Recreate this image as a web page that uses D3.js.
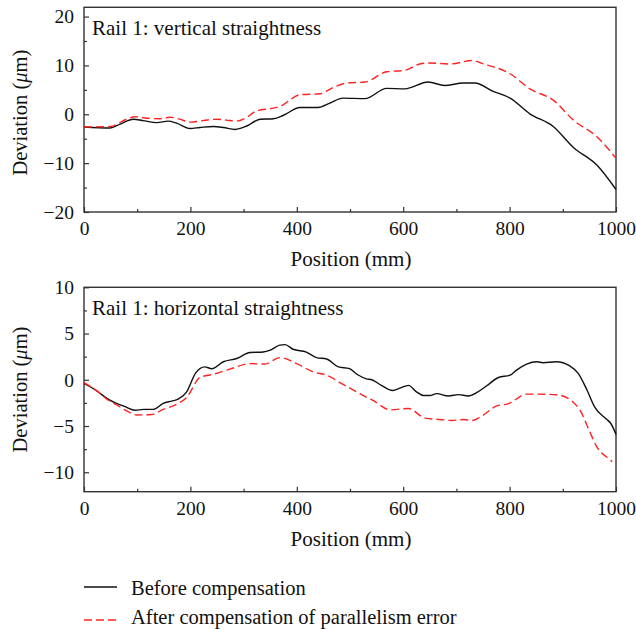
<!DOCTYPE html>
<html>
<head>
<meta charset="utf-8">
<script src="https://cdn.jsdelivr.net/npm/d3@7"></script>
<style>
  html, body { margin: 0; padding: 0; background: #fff; }
  svg { display: block; }
  text { font-family: "Liberation Serif", "Times New Roman", serif; fill: #111; }
</style>
</head>
<body>
<svg id="chart" width="636" height="629"></svg>
<script>
// ---------- Data ----------
const xTicks = [0, 200, 400, 600, 800, 1000];
const vertYTicks = [-20, -10, 0, 10, 20];
const horzYTicks = [-10, -5, 0, 5, 10];

// Rail 1: vertical straightness
const vertBeforeX = [0,49,68,93,111,137,158,174,199,218,243,262,284,306,331,356,375,406,440,462,487,528,569,603,647,678,713,735,769,801,838,882,920,964,1000];
const vertBeforeY = [-2.6,-2.8,-2.0,-1.0,-1.3,-1.7,-1.4,-1.8,-2.9,-2.7,-2.5,-2.7,-3.1,-2.4,-1.0,-0.9,-0.2,1.4,1.4,2.3,3.3,3.2,5.3,5.2,6.6,5.9,6.4,6.4,4.7,3.3,0.1,-2.5,-6.8,-10.4,-15.4];
const vertAfterX = [0,49,80,96,118,143,162,180,199,224,249,268,287,306,325,353,368,406,444,469,494,528,569,603,631,650,688,729,751,801,838,882,920,964,1000];
const vertAfterY = [-2.6,-2.5,-1.0,-0.5,-0.8,-0.9,-0.6,-1.0,-1.6,-1.3,-1.0,-1.2,-1.4,-0.6,0.75,1.2,1.6,4.0,4.2,5.5,6.4,6.6,8.7,9.0,10.3,10.5,10.3,11.0,10.3,8.3,5.2,2.9,-1.2,-4.6,-9.0];

// Rail 1: horizontal straightness
const horzBeforeX = [0,24,43,61,77,96,112,130,149,165,177,193,210,227,240,262,287,312,337,350,368,378,393,418,437,456,478,499,513,531,541,559,580,594,610,625,638,650,663,685,704,722,738,757,779,801,813,832,851,863,888,913,929,945,960,982,990,1000];
const horzBeforeY = [-0.4,-1.2,-2.0,-2.55,-2.9,-3.3,-3.2,-3.2,-2.55,-2.3,-2.1,-1.3,0.75,1.4,1.2,1.95,2.3,2.95,3.0,3.2,3.75,3.8,3.3,3.0,2.4,2.25,1.4,1.2,0.6,0.1,0.0,-0.6,-1.15,-0.9,-0.6,-1.3,-1.7,-1.7,-1.5,-1.75,-1.6,-1.75,-1.4,-0.65,0.25,0.5,1.05,1.7,1.95,1.85,1.95,1.5,0.7,-1.05,-2.95,-4.25,-4.7,-5.9];
const horzAfterX = [0,24,43,61,80,99,127,149,174,193,218,243,274,312,340,368,400,431,456,487,503,525,544,575,610,641,669,691,713,729,744,775,797,832,857,892,920,932,948,963,989,993];
const horzAfterY = [-0.3,-1.2,-2.1,-2.7,-3.35,-3.8,-3.75,-3.2,-2.65,-1.9,0.25,0.6,1.15,1.75,1.7,2.4,1.75,0.85,0.5,-0.5,-1.0,-1.7,-2.25,-3.25,-3.1,-4.15,-4.3,-4.4,-4.3,-4.4,-4.05,-2.85,-2.6,-1.55,-1.55,-1.65,-2.45,-3.25,-5.25,-7.15,-8.65,-8.85];

const seriesNames = ["Before compensation", "After compensation of parallelism error"];
const panelTitles = ["Rail 1: vertical straightness", "Rail 1: horizontal straightness"];

// ---------- Drawing ----------
const svg = d3.select("#chart");
const left = 84, right = 616;
const frameColor = "#333";

function zip(xs, ys) { return xs.map((x, i) => [x, ys[i]]); }

function panel(cfg) {
  const x = d3.scaleLinear().domain([0, 1000]).range([left, right]);
  const y = d3.scaleLinear().domain(cfg.yDomain).range([cfg.bottom, cfg.top]);
  const g = svg.append("g");

  // minor ticks
  const xAxisMinor = d3.axisBottom(x).tickValues(cfg.xMinor).tickSize(-3).tickFormat("");
  g.append("g").attr("transform", `translate(0,${cfg.bottom})`).call(xAxisMinor)
    .call(s => s.select(".domain").remove())
    .call(s => s.selectAll("line").attr("stroke", frameColor).attr("stroke-width", 1.2));
  const yAxisMinor = d3.axisLeft(y).tickValues(cfg.yMinor).tickSize(-3).tickFormat("");
  g.append("g").attr("transform", `translate(${left},0)`).call(yAxisMinor)
    .call(s => s.select(".domain").remove())
    .call(s => s.selectAll("line").attr("stroke", frameColor).attr("stroke-width", 1.2));

  // major axes
  const xAxis = d3.axisBottom(x).tickValues(xTicks).tickSize(-5).tickPadding(9).tickFormat(d3.format("d"));
  g.append("g").attr("transform", `translate(0,${cfg.bottom})`).call(xAxis)
    .call(s => s.select(".domain").remove())
    .call(s => s.selectAll("line").attr("stroke", frameColor).attr("stroke-width", 1.2))
    .call(s => s.selectAll("text").attr("font-size", 19.5).attr("font-family", "Liberation Serif").attr("fill", "#111"));
  const yAxis = d3.axisLeft(y).tickValues(cfg.yTicks).tickSize(-5).tickPadding(10)
    .tickFormat(d => d < 0 ? "\u2212" + Math.abs(d) : String(d));
  g.append("g").attr("transform", `translate(${left},0)`).call(yAxis)
    .call(s => s.select(".domain").remove())
    .call(s => s.selectAll("line").attr("stroke", frameColor).attr("stroke-width", 1.2))
    .call(s => s.selectAll("text").attr("font-size", 19.5).attr("font-family", "Liberation Serif").attr("fill", "#111"));

  // frame
  g.append("rect").attr("x", left).attr("y", cfg.top)
    .attr("width", right - left).attr("height", cfg.bottom - cfg.top)
    .attr("fill", "none").attr("stroke", frameColor).attr("stroke-width", 1.4);

  const line = d3.line().x(d => x(d[0])).y(d => y(d[1])).curve(d3.curveMonotoneX);
  g.append("path").datum(zip(cfg.beforeX, cfg.beforeY)).attr("d", line)
    .attr("fill", "none").attr("stroke", "#111").attr("stroke-width", 1.4);
  g.append("path").datum(zip(cfg.afterX, cfg.afterY)).attr("d", line)
    .attr("fill", "none").attr("stroke", "#f22").attr("stroke-width", 1.4).attr("stroke-dasharray", "8,4");

  // panel title
  g.append("text").attr("x", 92).attr("y", cfg.top + 20).attr("dy", "0.35em")
    .attr("font-size", 21).text(cfg.title);

  // axis titles
  g.append("text").attr("x", (left + right) / 2 + 1).attr("y", cfg.bottom + 47).attr("dy", "0.35em")
    .attr("text-anchor", "middle").attr("font-size", 21).text("Position (mm)");
  const yl = g.append("text")
    .attr("transform", `translate(27,${(cfg.top + cfg.bottom) / 2 + cfg.ylOffset}) rotate(-90)`)
    .attr("text-anchor", "middle").attr("font-size", 20.5);
  yl.append("tspan").text("Deviation (");
  yl.append("tspan").attr("font-style", "italic").text("\u03bc");
  yl.append("tspan").text("m)");
}

panel({
  top: 7.3, bottom: 212, yDomain: [-20, 21.9],
  yTicks: vertYTicks, yMinor: [-15, -5, 5, 15],
  xMinor: [100, 300, 500, 700, 900],
  beforeX: vertBeforeX, beforeY: vertBeforeY, afterX: vertAfterX, afterY: vertAfterY,
  title: panelTitles[0], ylOffset: 3
});
panel({
  top: 287.3, bottom: 491.7, yDomain: [-12.1, 10],
  yTicks: horzYTicks, yMinor: [-7.5, -2.5, 2.5, 7.5],
  xMinor: [100, 300, 500, 700, 900],
  beforeX: horzBeforeX, beforeY: horzBeforeY, afterX: horzAfterX, afterY: horzAfterY,
  title: panelTitles[1], ylOffset: 0
});

// legend
const legend = svg.append("g");
const legendRows = [
  { name: seriesNames[0], color: "#111", dash: null, y: 587, ty: 594.5 },
  { name: seriesNames[1], color: "#f22", dash: "8,4", y: 620, ty: 623.5 }
];
legendRows.forEach(r => {
  legend.append("line").attr("x1", 84).attr("x2", 117).attr("y1", r.y).attr("y2", r.y)
    .attr("stroke", r.color).attr("stroke-width", 1.4).attr("stroke-dasharray", r.dash);
  legend.append("text").attr("x", 131).attr("y", r.ty)
    .attr("font-size", 20.5).text(r.name);
});
</script>
</body>
</html>
